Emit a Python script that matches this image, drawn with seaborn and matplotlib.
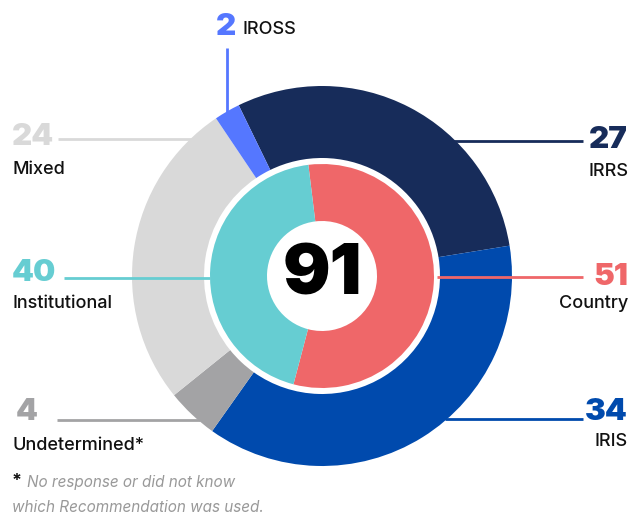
import matplotlib
matplotlib.use("Agg")
import matplotlib.pyplot as plt
import seaborn as sns

# outer ring (recommendation used), clockwise from IRRS
outer_labels = ["IRRS", "IRIS", "Undetermined*", "Mixed", "IROSS"]
outer_values = [27, 34, 4, 24, 2]
outer_colors = ["#172c5a", "#004aad", "#a3a3a5", "#d9d9d9", "#5577ff"]

# inner ring (type of assessment)
inner_labels = ["Country", "Institutional"]
inner_values = [51, 40]
inner_colors = ["#ef6769", "#66cdd2"]

total = sum(outer_values)

sns.set_theme(style="white")
plt.rcParams['font.family'] = ['Inter', 'DejaVu Sans']

W, H = 632, 515
fig = plt.figure(figsize=(W / 100, H / 100), dpi=100)
ax = fig.add_axes([0, 0, 1, 1])

cx, cy = 322, H - 276

ax.pie(outer_values, colors=outer_colors, radius=190, center=(cx, cy),
       startangle=116, counterclock=False,
       wedgeprops=dict(width=72, linewidth=0))
ax.pie(inner_values, colors=inner_colors, radius=112, center=(cx, cy),
       startangle=97, counterclock=False,
       wedgeprops=dict(width=57, linewidth=0))

ax.set_xlim(0, W)
ax.set_ylim(0, H)
ax.axis("off")

# total in the middle
ax.text(cx, cy, str(total), ha="center", va="center", fontsize=51,
        fontweight="black", color="black")

num_kw = dict(fontsize=22.5, fontweight="black", va="center")
lab_kw = dict(fontsize=13, fontweight="medium", color="#111111", va="center")

# left side labels
left = [("Mixed", 24, outer_colors[3], 137, 139, 58, 220, 170),
        ("Institutional", 40, inner_colors[1], 273, 278, 64, 210, 303),
        ("Undetermined*", 4, outer_colors[2], 412, 420, 57, 200, 445)]
for name, val, col, ny, ly, lx0, lx1, ty in left:
    ax.text(12 if val > 9 else 16, H - ny, str(val), ha="left", color=col, **num_kw)
    ax.plot([lx0, lx1], [H - ly, H - ly], color=col, lw=2, solid_capstyle="butt")
    ax.text(12, H - ty, name, ha="left", **lab_kw)

# right side labels
right = [("IRRS", 27, outer_colors[0], 140, 141, 452, 172),
         ("Country", 51, inner_colors[0], 277, 277, 437, 303),
         ("IRIS", 34, outer_colors[1], 412, 419, 445, 441)]
for name, val, col, ny, ly, lx0, ty in right:
    ax.text(628, H - ny, str(val), ha="right", color=col, **num_kw)
    ax.plot([lx0, 583], [H - ly, H - ly], color=col, lw=2, solid_capstyle="butt")
    ax.text(628, H - ty, name, ha="right", **lab_kw)

# IROSS on top
ax.text(216, H - 27, "2", ha="left", color=outer_colors[4], **num_kw)
ax.text(242, H - 30, "IROSS", ha="left", **lab_kw)
ax.plot([227, 227], [H - 48, H - 113], color=outer_colors[4], lw=2, solid_capstyle="butt")

# footnote
ax.text(12, H - 482, "*", ha="left", va="center", fontsize=13, fontweight="bold", color="#111111")
ax.text(27, H - 482, "No response or did not know", ha="left", va="center",
        fontsize=11, style="italic", color="#999999")
ax.text(12, H - 507, "which Recommendation was used.", ha="left", va="center",
        fontsize=11, style="italic", color="#999999")

fig.savefig("out.png", dpi=100)
